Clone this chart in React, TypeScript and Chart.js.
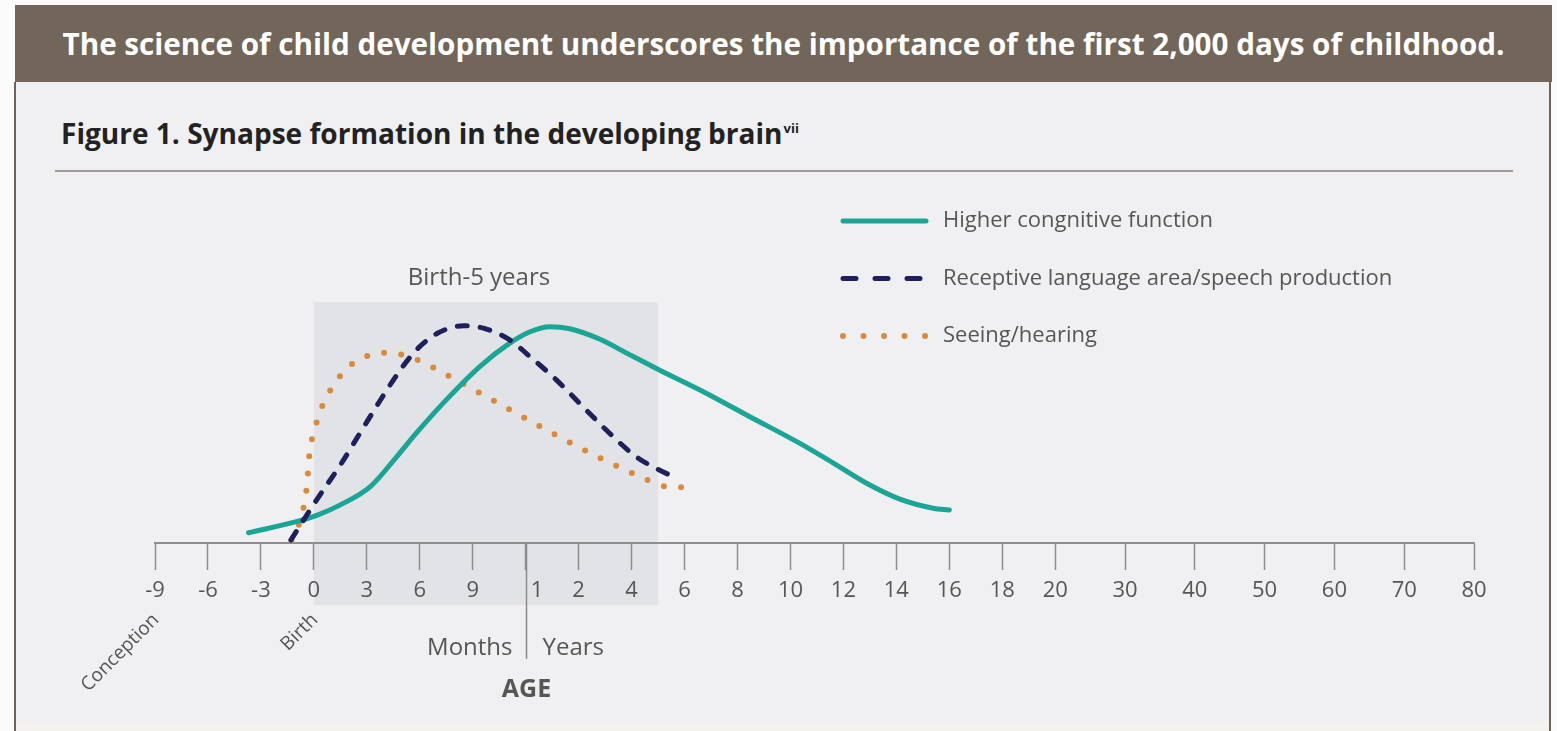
import React, { useEffect, useRef } from 'react';
import { Chart, registerables, LinearScale } from 'chart.js';

Chart.register(...registerables);

// ---------------- data ----------------
// Axis ticks (age in months) and their printed labels
const tickAges = [-9, -6, -3, 0, 3, 6, 9, 12, 24, 48, 72, 96, 120, 144, 168, 192, 216, 240, 360, 480, 600, 720, 840, 960];
const tickLabels = ['-9', '-6', '-3', '0', '3', '6', '9', '1', '2', '4', '6', '8', '10', '12', '14', '16', '18', '20', '30', '40', '50', '60', '70', '80'];
const monthsYearsSplit = 12; // months | years boundary (age in months)

// Higher cognitive function (age in months, relative synapse formation)
const cognitiveAge = [-3.7, -1, 0.2, 1.5, 3.2, 4.7, 5.8, 7.5, 9.4, 11.1, 13, 17.5, 22, 33.7, 47.3, 60.8, 79, 101.6, 124.3, 139.3, 154.5, 169.6, 184.6, 192];
const cognitiveLevel = [3.4, 7.1, 9.3, 12.7, 18.8, 28.8, 36.6, 47.7, 58.8, 66.6, 70.4, 72.1, 71.4, 67.9, 62.7, 57.6, 51, 42.1, 33.2, 26.7, 19.9, 14.6, 11.6, 11];

// Receptive language area / speech production
const languageAge = [-1.3, -0.7, 0.15, 1.5, 2.6, 3.7, 4.9, 5.8, 7, 8.5, 9.6, 11.1, 13, 19, 26, 38, 50, 59, 68.4];
const languageLevel = [1, 6.6, 14.3, 26, 36.5, 47, 57.7, 64.3, 69.9, 72.4, 71.6, 67.7, 62.1, 54.3, 45.4, 36.6, 28.8, 24.9, 21.6];

// Seeing / hearing
const sensoryAge = [-1.27, -0.8, -0.41, -0.23, 0, 0.3, 0.72, 1.29, 1.94, 2.85, 3.87, 4.87, 5.88, 6.86, 8.69, 10.54, 13.6, 21, 32.9, 48, 55.8, 63.9, 71.7];
const sensoryLevel = [1, 7.1, 18.2, 30.8, 36.8, 43, 48.6, 54.1, 58.6, 61.9, 63.4, 62.9, 61, 58.2, 52.3, 46.3, 40.2, 34.3, 28.6, 23.4, 20.8, 18.8, 18.6];

// Highlighted period
const highlightFrom = 0;
const highlightTo = 60;
const highlightTop = 80.3;
const highlightLabel = 'Birth-5 years';

// Milestones
const milestoneAges = [-9, 0];
const milestoneLabels = ['Conception', 'Birth'];

const bannerText = 'The science of child development underscores the importance of the first 2,000 days of childhood.';
const figureTitle = 'Figure 1. Synapse formation in the developing brain';

// ---------------- non-uniform age scale ----------------
const DECADE_WEIGHT = 1.318;
const tickUnits: number[] = tickAges.reduce((acc: number[], a, i) => {
  if (i === 0) acc.push(0);
  else acc.push(acc[i - 1] + (tickAges[i - 1] >= 240 ? DECADE_WEIGHT : 1));
  return acc;
}, []);

function ageToUnit(a: number): number {
  const n = tickAges.length;
  let i = 0;
  if (a <= tickAges[0]) i = 0;
  else if (a >= tickAges[n - 1]) i = n - 2;
  else {
    while (i < n - 2 && a > tickAges[i + 1]) i++;
  }
  const t = (a - tickAges[i]) / (tickAges[i + 1] - tickAges[i]);
  return tickUnits[i] + t * (tickUnits[i + 1] - tickUnits[i]);
}
function unitToAge(u: number): number {
  const n = tickUnits.length;
  let i = 0;
  while (i < n - 2 && u > tickUnits[i + 1]) i++;
  const t = (u - tickUnits[i]) / (tickUnits[i + 1] - tickUnits[i]);
  return tickAges[i] + t * (tickAges[i + 1] - tickAges[i]);
}

class AgeScale extends (LinearScale as any) {
  static id = 'age';
  static defaults = (LinearScale as any).defaults;
  buildTicks() {
    return tickAges.map((v) => ({ value: v }));
  }
  getPixelForValue(value: any) {
    if (value === null || value === undefined || isNaN(value)) return NaN;
    const u0 = ageToUnit(this.min);
    const u1 = ageToUnit(this.max);
    return this.getPixelForDecimal((ageToUnit(value) - u0) / (u1 - u0));
  }
  getValueForPixel(pixel: number) {
    const u0 = ageToUnit(this.min);
    const u1 = ageToUnit(this.max);
    return unitToAge(u0 + this.getDecimalForPixel(pixel) * (u1 - u0));
  }
}
Chart.register(AgeScale as any);

const FONT = '"Open Sans", Lato, sans-serif';
const TEXT = '#565656';

function fitFontSize(text: string, weight: string, targetWidth: number): number {
  const c = document.createElement('canvas').getContext('2d');
  if (!c) return 28;
  c.font = `${weight} 100px ${FONT}`;
  const w = c.measureText(text).width;
  return w > 0 ? (100 * targetWidth) / w : 28;
}

const decorPlugin = {
  id: 'decor',
  beforeDraw(chart: any) {
    const { ctx, chartArea, scales } = chart;
    const xs = scales.x;
    const ys = scales.y;
    const x0 = xs.getPixelForValue(highlightFrom);
    const x1 = xs.getPixelForValue(highlightTo);
    const top = ys.getPixelForValue(highlightTop);
    const bottom = chartArea.bottom + 62;
    ctx.save();
    ctx.fillStyle = '#e2e3e6';
    ctx.fillRect(x0, top, x1 - x0, bottom - top);
    ctx.fillStyle = TEXT;
    ctx.font = `24px ${FONT}`;
    ctx.textAlign = 'center';
    ctx.textBaseline = 'middle';
    ctx.fillText(highlightLabel, (x0 + x1) / 2 - 7, top - 24);
    ctx.restore();
  },
  afterDraw(chart: any) {
    const { ctx, chartArea, scales } = chart;
    const xs = scales.x;
    const axisY = chartArea.bottom;
    ctx.save();
    // months | years divider
    const sx = Math.round(xs.getPixelForValue(monthsYearsSplit)) + 0.5;
    ctx.strokeStyle = '#8a8a8a';
    ctx.lineWidth = 1.5;
    ctx.beginPath();
    ctx.moveTo(sx, axisY);
    ctx.lineTo(sx, axisY + 116);
    ctx.stroke();
    ctx.fillStyle = TEXT;
    ctx.font = `24px ${FONT}`;
    ctx.textBaseline = 'middle';
    ctx.textAlign = 'right';
    ctx.fillText('Months', sx - 14, axisY + 105);
    ctx.textAlign = 'left';
    ctx.fillText('Years', sx + 16, axisY + 105);
    ctx.font = `bold 25px ${FONT}`;
    ctx.textAlign = 'center';
    ctx.fillText('AGE', sx, axisY + 147);
    // milestones
    ctx.font = `19px ${FONT}`;
    milestoneAges.forEach((a, i) => {
      const px = xs.getPixelForValue(a);
      ctx.save();
      ctx.translate(px + 1, axisY + 74);
      ctx.rotate(-Math.PI / 4);
      ctx.textAlign = 'right';
      ctx.textBaseline = 'middle';
      ctx.fillText(milestoneLabels[i], 0, 0);
      ctx.restore();
    });
    // legend
    const lx0 = 843;
    const lx1 = 925;
    const ly = 221;
    const gap = 57.5;
    chart.data.datasets.forEach((ds: any, i: number) => {
      const y = ly + gap * i;
      ctx.save();
      ctx.strokeStyle = ds.borderColor;
      ctx.lineWidth = ds.borderWidth;
      ctx.lineCap = 'round';
      ctx.setLineDash(ds.legendDash || []);
      ctx.beginPath();
      ctx.moveTo(lx0, y);
      ctx.lineTo(lx1 + 1, y);
      ctx.stroke();
      ctx.restore();
      ctx.fillStyle = TEXT;
      ctx.font = `22px ${FONT}`;
      ctx.textAlign = 'left';
      ctx.textBaseline = 'middle';
      ctx.fillText(ds.label, 943, y);
    });
    ctx.restore();
  },
};

const toPoints = (xs: number[], ys: number[]) => xs.map((x, i) => ({ x, y: ys[i] }));

export default function App() {
  const ref = useRef<HTMLCanvasElement>(null);
  const bannerSize = fitFontSize(bannerText, 'bold', 1443);
  const titleSize = fitFontSize(figureTitle, 'bold', 722);
  useEffect(() => {
    const chart = new Chart(ref.current as HTMLCanvasElement, {
      type: 'line',
      data: {
        datasets: [
          {
            label: 'Higher congnitive function',
            data: toPoints(cognitiveAge, cognitiveLevel),
            borderColor: '#1ba596',
            borderWidth: 5,
            borderCapStyle: 'round',
            pointRadius: 0,
            cubicInterpolationMode: 'monotone',
            legendDash: [],
            order: 2,
          } as any,
          {
            label: 'Receptive language area/speech production',
            data: toPoints(languageAge, languageLevel),
            borderColor: '#1d205c',
            borderWidth: 5,
            borderDash: [10, 13],
            borderCapStyle: 'round',
            pointRadius: 0,
            cubicInterpolationMode: 'monotone',
            legendDash: [13, 19],
            order: 1,
          } as any,
          {
            label: 'Seeing/hearing',
            data: toPoints(sensoryAge, sensoryLevel),
            borderColor: '#d98b3b',
            borderWidth: 6,
            borderDash: [0, 17.3],
            borderCapStyle: 'round',
            pointRadius: 0,
            cubicInterpolationMode: 'monotone',
            legendDash: [0, 20.5],
            order: 3,
          } as any,
        ],
      },
      options: {
        responsive: false,
        animation: false,
        events: [],
        layout: { padding: { left: 155, right: 83, top: 243, bottom: 108 } },
        plugins: { legend: { display: false }, tooltip: { enabled: false } },
        scales: {
          x: {
            type: 'age' as any,
            min: -9,
            max: 960,
            grid: { drawOnChartArea: false, drawTicks: true, tickLength: 27, tickColor: '#8e8e8e', tickWidth: 1.5 },
            border: { display: true, color: '#8e8e8e', width: 2 },
            ticks: {
              autoSkip: false,
              maxRotation: 0,
              minRotation: 0,
              padding: 8,
              color: TEXT,
              font: { family: FONT, size: 22 },
              callback: (_v: any, i: number) => (tickAges[i] === monthsYearsSplit ? '    ' + tickLabels[i] : tickLabels[i]),
            },
            afterFit: (s: any) => {
              s.height = 80;
            },
          } as any,
          y: { display: false, min: 0, max: 100 },
        },
      },
      plugins: [decorPlugin],
    });
    return () => chart.destroy();
  }, []);

  return (
    <div style={{ position: 'absolute', left: 0, top: 0, width: 1557, height: 731, background: '#fbfbfb', overflow: 'hidden', fontFamily: FONT }}>
      <div
        style={{
          position: 'absolute',
          left: 15,
          top: 5,
          width: 1537,
          height: 77,
          background: '#726559',
          color: '#ffffff',
          fontWeight: 700,
          fontSize: bannerSize,
          display: 'flex',
          alignItems: 'center',
          justifyContent: 'center',
          whiteSpace: 'nowrap',
        }}
      >
        {bannerText}
      </div>
      <div
        style={{
          position: 'absolute',
          left: 14,
          top: 82,
          width: 1537,
          height: 649,
          background: '#f0f0f2',
          borderLeft: '2px solid #6e6359',
          borderRight: '2px solid #6e6359',
          boxSizing: 'border-box',
        }}
      />
      <div style={{ position: 'absolute', left: 16, top: 722, width: 1533, height: 9, background: '#f4f2ee' }} />
      <div style={{ position: 'absolute', left: 61, top: 112, lineHeight: '34px', fontSize: titleSize, fontWeight: 700, color: '#222222', whiteSpace: 'nowrap' }}>
        {figureTitle}
        <sup style={{ fontSize: 13, position: 'relative', top: -1, marginLeft: 1 }}>vii</sup>
      </div>
      <div style={{ position: 'absolute', left: 55, top: 170, width: 1458, height: 2, background: '#a39c95' }} />
      <canvas ref={ref} width={1557} height={731} style={{ position: 'absolute', left: 0, top: 0 }} />
    </div>
  );
}
